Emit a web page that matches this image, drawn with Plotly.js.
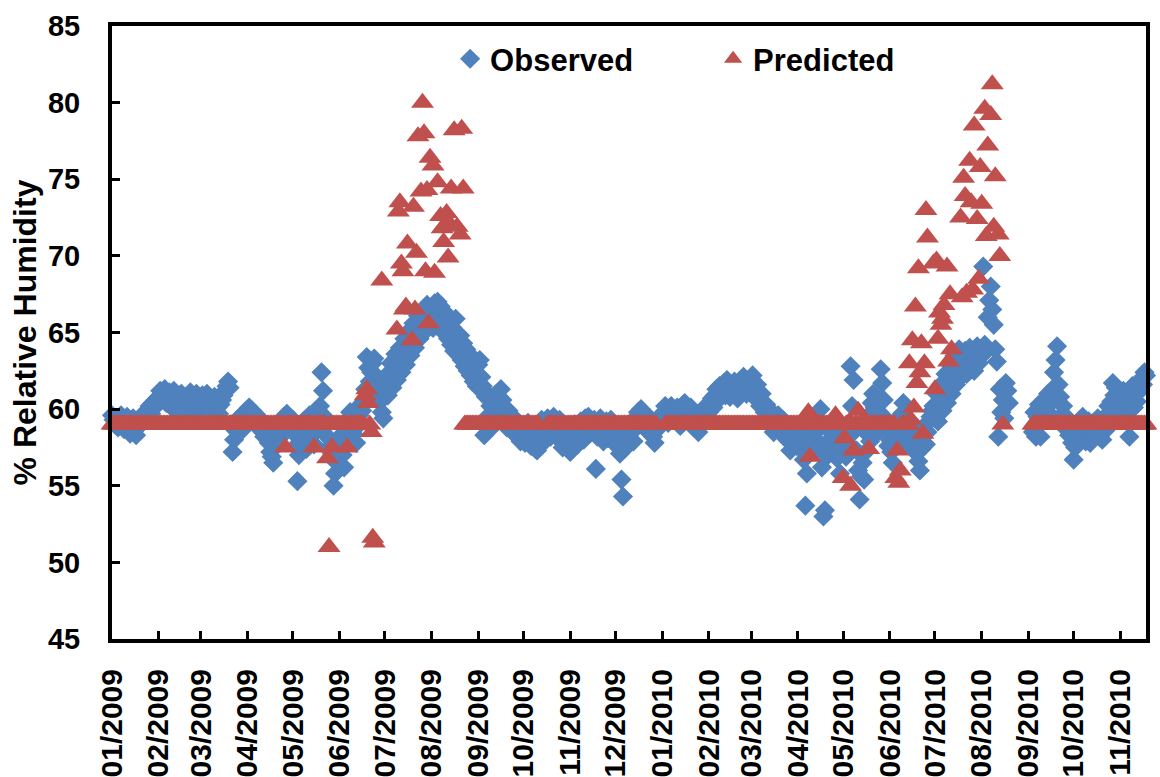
<!DOCTYPE html>
<html>
<head>
<meta charset="utf-8">
<script src="https://cdn.plot.ly/plotly-3.0.1.min.js"></script>
<style>
html,body{margin:0;padding:0;background:#fff;}
#chart{width:1160px;height:777px;}
</style>
</head>
<body>
<div id="chart"></div>
<script>
// Month of each row below (one value per day, starting on the 1st)
const months = ['2009-01','2009-02','2009-03','2009-04','2009-05','2009-06','2009-07','2009-08','2009-09','2009-10','2009-11','2009-12',
                '2010-01','2010-02','2010-03','2010-04','2010-05','2010-06','2010-07','2010-08','2010-09','2010-10','2010-11'];

// Observed % relative humidity (daily)
const observed = [
 [59.6,59.3,59.0,59.4,58.8,59.2,59.6,59.1,58.7,59.3, 59.5,58.9,58.4,59.0,59.4,58.6,58.3,58.9,59.2,59.5, 59.1,59.6,59.8,59.3,59.9,60.2,59.7,60.4,60.1,60.6, 60.3],
 [60.8,61.2,60.6,61.0,61.3,60.4,60.9,61.1,60.2,60.7, 61.2,60.5,59.8,60.3,60.9,61.0,60.6,60.1,59.7,60.4, 60.8,61.1,60.5,60.2,60.7,61.0,60.3,59.9],
 [60.6,60.9,60.2,60.5,61.0,60.7,60.3,59.9,60.4,60.8, 60.5,60.1,59.7,60.3,60.6,60.9,61.2,61.5,61.8,61.4, 59.0,57.2,58.0,58.6,59.3,58.8,59.5,59.2,58.7,59.6, 59.9],
 [59.8,60.1,59.6,59.9,59.3,59.7,59.2,58.8,59.4,59.0, 58.5,58.2,58.9,58.4,57.8,57.2,56.9,56.5,57.6,58.3, 58.8,58.1,58.6,59.2,59.5,59.1,59.7,59.4,59.0,58.6],
 [59.3,58.7,57.6,55.3,57.0,57.9,58.5,59.2,58.1,57.4, 58.8,59.6,59.0,58.3,57.7,58.6,59.4,59.9,60.2,62.4, 61.2,59.5,58.9,58.2,57.5,58.0,57.1,55.0,55.8,56.5, 57.5],
 [57.5,58.3,57.0,56.2,58.8,59.3,58.6,59.8,59.1,58.4, 59.5,57.8,58.9,59.6,60.3,59.9,60.5,61.3,63.4,62.7, 61.8,62.4,63.0,63.3,62.2,60.9,61.6,60.5,59.8,59.4],
 [61.0,62.2,60.9,61.7,63.0,61.4,62.5,63.6,61.9,62.8, 64.0,62.4,63.3,64.6,62.9,63.9,65.1,63.5,64.5,65.6, 64.0,65.0,66.1,64.6,65.5,66.4,65.0,65.9,66.8,65.4, 66.2],
 [66.2,65.3,66.9,65.8,67.0,66.0,66.7,65.4,66.4,64.9, 66.0,64.6,65.7,64.2,65.3,63.8,65.9,64.1,63.5,64.8, 63.2,64.3,62.8,63.9,62.5,63.6,62.2,63.3,61.8,62.9, 61.5],
 [62.9,63.2,62.1,61.5,58.3,60.8,61.0,59.6,60.2,59.3, 58.9,60.5,61.0,60.1,59.7,61.3,60.6,60.0,59.4,58.8, 59.9,59.2,58.6,59.5,58.9,58.3,59.1,58.4,57.9,58.7],
 [58.2,57.8,58.5,59.1,58.0,57.6,58.4,58.9,57.4,57.3, 58.1,58.7,59.3,58.5,57.9,58.8,59.4,58.6,58.2,59.0, 59.5,58.3,59.1,58.7,59.3,57.9,57.5,58.4,58.9,57.6, 58.0],
 [57.2,57.8,58.5,59.0,58.3,57.7,58.8,59.2,58.6,58.0, 59.4,58.9,59.5,58.4,59.1,58.7,59.3,56.1,58.2,58.8, 59.4,58.5,57.9,58.6,59.2,58.1,58.7,59.3,58.4,59.0],
 [58.3,57.6,58.8,57.1,55.4,54.3,57.4,58.2,58.9,58.4, 59.1,58.6,57.9,58.7,59.3,59.8,59.5,60.0,59.2,58.8, 59.6,59.0,58.5,59.4,58.9,58.2,57.8,58.6,59.3,58.9, 59.5],
 [59.3,59.8,60.2,59.6,59.1,59.9,60.2,60.0,59.4,59.7, 60.1,59.5,58.9,59.8,60.3,60.4,59.6,59.2,59.9,60.1, 59.5,58.8,59.3,59.7,58.5,59.2,59.8,60.0,59.4,59.6, 60.2],
 [59.8,60.3,60.7,60.1,60.9,61.3,60.6,61.5,60.8,61.2, 61.7,60.9,61.9,61.4,60.8,61.6,61.1,61.8,61.3,60.7, 61.5,61.9,61.2,62.1,61.6,61.0,61.8,61.4],
 [61.7,62.2,61.3,60.8,61.6,60.5,60.2,61.0,60.4,59.8, 60.3,59.6,59.1,59.9,59.4,58.5,59.2,58.8,59.6,59.0, 58.6,59.3,58.2,58.9,58.4,57.9,57.3,58.1,58.7,58.0, 57.6],
 [58.3,57.5,58.8,57.9,56.7,53.7,55.8,57.2,58.1,57.6, 58.5,59.2,58.0,57.4,58.7,60.0,56.2,53.0,53.4,56.9, 57.8,58.6,57.3,58.2,59.0,57.7,56.8,58.4,55.8,58.9],
 [57.5,58.3,56.9,57.8,59.1,62.8,60.2,61.9,58.6,57.3, 56.0,54.1,55.6,56.5,55.4,57.2,58.4,59.6,57.9,60.4, 61.0,60.1,59.2,58.5,59.8,62.6,61.7,60.6,59.4,58.8, 57.6],
 [58.0,57.2,56.5,57.8,58.6,59.3,58.2,59.0,59.7,60.4, 59.5,58.8,58.1,57.6,58.4,59.1,58.7,57.9,57.1,56.6, 56.0,57.4,58.3,58.9,57.7,58.5,59.2,59.5,59.9,60.2],
 [59.6,61.0,59.2,60.5,61.6,59.9,61.2,62.3,60.4,61.8, 62.9,61.0,62.4,63.5,61.6,62.8,63.9,62.1,63.3,62.6, 63.8,62.3,63.5,64.0,62.9,63.7,62.5,63.4,64.1,63.0, 63.6],
 [63.5,69.3,64.2,63.8,66.0,67.1,68.0,66.5,65.5,63.9, 63.1,58.2,61.3,59.8,60.6,59.4,61.7,61.2,60.4,null, null,null,null,null,null,null,null,null,null,null, null],
 [null,null,null,58.5,59.8,58.2,59.5,60.3,58.2,59.9, 60.0,59.3,60.6,61.0,59.7,60.4,61.3,62.4,63.2,64.1, 61.6,60.8,59.6,60.2,59.1,58.7,59.4,58.3,58.9,57.8],
 [56.7,57.5,58.3,59.0,58.1,58.8,59.5,58.4,57.9,58.6, 59.2,57.8,58.5,59.1,58.3,58.9,59.4,58.2,58.7,58.0, 59.3,58.6,59.6,60.2,59.8,60.5,61.7,60.9,61.4,61.0, 60.4],
 [60.6,59.7,61.2,60.3,61.0,59.4,58.2,60.8,61.5,60.1, 61.1,60.5,61.7,61.2,62.0,61.6,62.4,62.2]
];

// Predicted % relative humidity (daily)
const predicted = [
 [59,59,59,59,59,59,59,59,59,59, 59,59,59,59,59,59,59,59,59,59, 59,59,59,59,59,59,59,59,59,59, 59],
 [59,59,59,59,59,59,59,59,59,59, 59,59,59,59,59,59,59,59,59,59, 59,59,59,59,59,59,59,59],
 [59,59,59,59,59,59,59,59,59,59, 59,59,59,59,59,59,59,59,59,59, 59,59,59,59,59,59,59,59,59,59, 59],
 [59,59,59,59,59,59,59,59,59,59, 59,59,59,59,59,59,59,59,59,59, 59,59,59,59,59,57.5,59,59,59,59],
 [59,59,59,59,59,59,59,59,59,59, 59,59,59,59,57.5,59,59,59,59,59, 59,59,59,56.8,51.0,59,57.5,59,59,59, 59],
 [59,59,59,59,59,57.5,59,59,59,59, 59,59,59,59,59,59,59,60.9,61.3,60.4, 59.0,58.5,51.6,51.3,null,null,null,null,68.4,null],
 [null,null,null,null,null,null,null,null,65.2,72.9, 73.5,69.5,69.0,66.5,66.7,70.8,null,null,64.5,73.2, 66.5,70.2,77.8,null,74.2,80.0,78.0,69.0,74.3,65.6, 76.4],
 [null,75.9,68.9,null,74.8,null,72.6,71.8,70.9,null, 72.8,69.9,72.1,74.4,null,78.2,null,71.9,null,71.4, 78.3,74.4,59,59,59,59,59,59,59,59, 59],
 [59,59,59,59,59,59,59,59,59,59, 59,59,59,59,59,59,59,59,59,59, 59,59,59,59,59,59,59,59,59,59],
 [59,59,59,59,59,59,59,59,59,59, 59,null,null,null,null,null,59,59,59,59, 59,59,59,59,59,59,59,59,59,59, 59],
 [59,59,59,59,59,59,59,59,59,59, 59,59,59,59,59,59,59,59,59,59, 59,59,59,59,59,59,59,59,59,59],
 [59,59,59,59,59,59,59,59,59,59, 59,59,59,59,59,59,59,59,59,59, 59,59,59,59,59,59,59,59,null,null, null],
 [null,null,59,59,59,59,59,59,59,59, 59,59,59,59,59,59,59,59,59,59, 59,59,59,59,59,59,59,59,59,59, 59],
 [59,59,59,59,59,59,59,59,59,59, 59,59,59,59,59,59,59,59,59,59, 59,59,59,59,59,59,59,59],
 [59,59,59,59,59,59,59,59,59,59, 59,59,59,59,59,59,59,59,59,59, 59,59,59,59,59,59,59,59,59,59, 59],
 [59,59,59,59,59,59,59,59.8,56.9,59, 59,59,59,59,59,59,59,59,59,59, 59,59,59,59,59,59.6,59,59,59,59],
 [55.5,58.1,59,59,59,55.0,59,57.3,59,59, 59.9,59,59,59,59,59,59,57.4,59,59, 59,59,59,59,59,59,59,59,59,59, 59],
 [59,59,59,59,55.5,57.3,55.2,56.0,59,59, 59,59,59,63.0,59.3,64.5,60.1,66.7,61.7,69.2, 62.4,64.3,58.4,63.0,73.0,71.2,null,null,null,69.5],
 [61.3,69.7,64.6,66.3,65.5,65.9,66.8,null,69.3,63.1, 67.5,63.9,null,null,null,null,null,72.5,67.3,75.1, 73.9,67.6,null,76.2,73.5,67.8,78.5,null,72.4,68.5, 75.8],
 [73.4,null,79.6,71.3,77.2,null,79.2,81.2,71.9,75.2, null,71.4,70.0,null,59.0,null,null,null,null,null, null,null,null,null,null,null,null,null,null,null, null],
 [null,null,null,59,59,59,59,59,59,59, 59,59,59,59,59,59,59,59,59,59, 59,59,59,59,59,59,59,59,59,59],
 [59,59,59,59,59,59,59,59,59,59, 59,59,59,59,59,59,59,59,59,59, 59,59,59,59,59,59,59,59,59,59, 59],
 [59,59,59,59,59,59,59,59,59,59, 59,59,59,59,59,59,59,59]
];

const seriesNames = ['Observed', 'Predicted'];
const yTitle = '% Relative Humidity';

function toXY(rows) {
  const xs = [], ys = [];
  rows.forEach((row, mi) => {
    const parts = months[mi].split('-').map(Number);
    row.forEach((v, i) => {
      const d = new Date(Date.UTC(parts[0], parts[1] - 1, i + 1));
      xs.push(d.toISOString().slice(0, 10));
      ys.push(v);
    });
  });
  return {xs, ys};
}

const obs = toXY(observed);
const pred = toXY(predicted);

const FONT = 'Liberation Sans, Arial, Helvetica, sans-serif';

const traces = [
  {
    type: 'scatter', mode: 'markers', name: seriesNames[0],
    x: obs.xs, y: obs.ys, cliponaxis: false,
    marker: {symbol: 'diamond', size: 15.5, color: '#4F81BD', line: {width: 0}}
  },
  {
    type: 'scatter', mode: 'markers', name: seriesNames[1],
    x: pred.xs, y: pred.ys, cliponaxis: false,
    marker: {symbol: 'triangle-up', size: 20, color: '#C0504D', line: {width: 0}}
  }
];

const layout = {
  width: 1160, height: 777,
  margin: {l: 112, r: 14, t: 26, b: 138, pad: 0},
  paper_bgcolor: '#ffffff', plot_bgcolor: '#ffffff',
  font: {family: FONT, color: '#000000'},
  showlegend: true,
  legend: {
    orientation: 'h', x: 0.327, xanchor: 'left', y: 0.99, yanchor: 'top',
    font: {family: FONT, size: 31, weight: 'bold', color: '#000'},
    bgcolor: 'rgba(0,0,0,0)', borderwidth: 0, entrywidth: 218, traceorder: 'normal'
  },
  xaxis: {
    type: 'date', range: ['2009-01-01', '2010-11-18'],
    tick0: '2009-01-01', dtick: 'M1', tickformat: '%m/%Y', tickangle: -90,
    ticks: 'inside', ticklen: 8, tickwidth: 3, tickcolor: '#000',
    showline: true, linewidth: 4, linecolor: '#000', mirror: true,
    showgrid: false, zeroline: false,
    tickfont: {family: FONT, size: 30, weight: 'bold', color: '#000'},
    ticklabelstandoff: 14
  },
  yaxis: {
    range: [45, 85], tick0: 45, dtick: 5,
    ticks: 'inside', ticklen: 8, tickwidth: 3, tickcolor: '#000',
    showline: true, linewidth: 4, linecolor: '#000', mirror: true,
    showgrid: false, zeroline: false,
    tickfont: {family: FONT, size: 29, weight: 'bold', color: '#000'},
    ticklabelstandoff: 22,
    title: {text: yTitle, font: {family: FONT, size: 32, weight: 'bold', color: '#000'}, standoff: 3}
  }
};

Plotly.newPlot('chart', traces, layout, {displayModeBar: false, staticPlot: true});
</script>
</body>
</html>
